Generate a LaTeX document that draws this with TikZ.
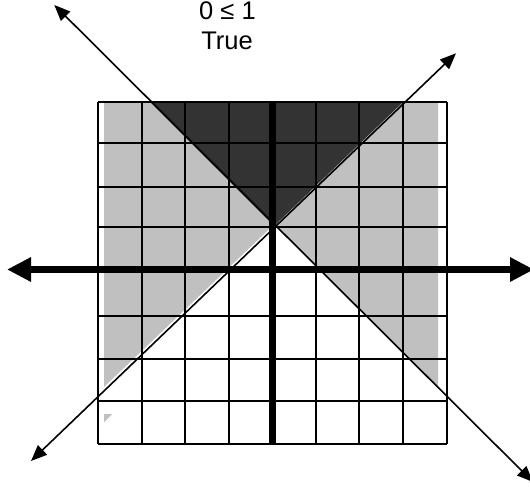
\documentclass[tikz,border=0pt]{standalone}
\usepackage{fontspec}
\setmainfont{Liberation Sans}
\usetikzlibrary{arrows.meta}
\definecolor{lightg}{HTML}{C0C0C0}
\definecolor{darkg}{HTML}{333333}
\begin{document}
\begin{tikzpicture}[x=1pt,y=-1pt,
  gridline/.style={line width=2pt},
  axisline/.style={line width=7.5pt},
  axisarrows/.style={{Triangle[length=24pt,width=23pt]}-{Triangle[length=24pt,width=23pt]}},
  diag/.style={line width=1.6pt,{Triangle[length=16pt,width=13pt]}-{Triangle[length=16pt,width=13pt]}},
  lbl/.style={font=\fontsize{25.5}{30}\selectfont, inner sep=0pt, anchor=base}]
\useasboundingbox (0,0) rectangle (530,487);
% shaded regions
\fill[lightg] (104,102) -- (438,102) -- (438,388.5) -- (274,224.5) -- (104,387) -- cycle;
\fill[lightg] (104,414) -- (112.3,414) -- (104,422.3) -- cycle;
\fill[darkg] (150,102) -- (403,102) -- (274,226) -- cycle;
% grid
\foreach \gx in {97.5,141.7,185,229,316,359.3,402.7,446.7}
  \draw[gridline] (\gx,102) -- (\gx,444.3);
\foreach \gy in {102,142.7,186.7,227.3,315.7,359.3,400.7,444.3}
  \draw[gridline] (97.5,\gy) -- (446.7,\gy);
% diagonal lines
\coordinate (l1a) at (54.3,5);
\coordinate (l1b) at (533,482);
\coordinate (l2a) at (31,461);
\coordinate (l2b) at (456,53.3);
\draw[diag] (l1a) -- (l1b);
\draw[diag] (l2a) -- (l2b);
% axes
\coordinate (ya) at (272.7,102);
\coordinate (yb) at (272.7,444.3);
\coordinate (xa) at (7,269.5);
\coordinate (xb) at (534,269.5);
\draw[axisline] (ya) -- (yb);
\draw[axisline,axisarrows] (xa) -- (xb);
% labels
\node[lbl] (t1) at (227.5,19.5) {0 ≤ 1};
\node[lbl] (t2) at (227,49.3) {True};
\end{tikzpicture}
\end{document}
